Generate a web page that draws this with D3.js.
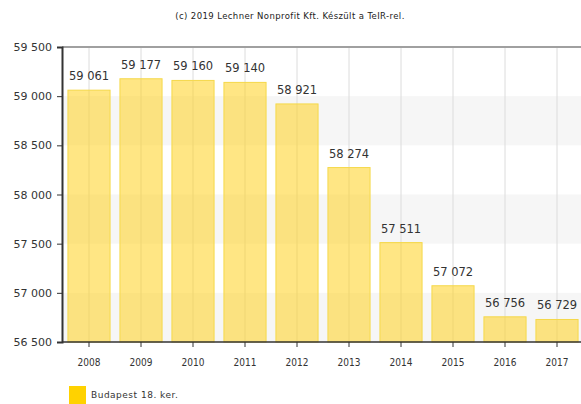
<!DOCTYPE html>
<html>
<head>
<meta charset="utf-8">
<script src="https://cdn.jsdelivr.net/npm/d3@7"></script>
<style>
  body { margin: 0; background: #fff; }
  svg { font-family: "DejaVu Sans", Verdana, sans-serif; }
</style>
</head>
<body>
<svg id="contenedor"></svg>
<script>
// datos del gráfico
let evek = ["2008", "2009", "2010", "2011", "2012", "2013", "2014", "2015", "2016", "2017"];
let nepesseg = [59061, 59177, 59160, 59140, 58921, 58274, 57511, 57072, 56756, 56729];
let yTicks = [56500, 57000, 57500, 58000, 58500, 59000, 59500];
let sorozatNev = "Budapest 18. ker.";
let cim = "(c) 2019 Lechner Nonprofit Kft. Készült a TeIR-rel.";

let width = 581;
let height = 404;
let margin = { top: 47, bottom: 62, left: 62, right: 0 };
let bodyWidth = width - margin.left - margin.right;
let bodyHeight = height - margin.top - margin.bottom;

let svg = d3.select("#contenedor").attr("width", width).attr("height", height);

let fmt = (v) => d3.format(",")(v).replace(/,/g, " ");

let xScale = d3.scaleBand().domain(evek).range([1, 521]).paddingInner(0.19).paddingOuter(0.095);
let yScale = d3.scaleLinear().domain([56500, 59500]).range([bodyHeight, 0]);

let body = svg.append("g").attr("transform", `translate(${margin.left},${margin.top})`);

// sávok (váltakozó háttér)
let savok = d3.pairs(yTicks).filter((d, i) => i % 2 === 0);
body.selectAll(".sav").data(savok).enter().append("rect")
  .attr("x", 0)
  .attr("width", bodyWidth)
  .attr("y", (d) => yScale(d[1]))
  .attr("height", (d) => yScale(d[0]) - yScale(d[1]))
  .attr("fill", "#f6f6f6");

// függőleges rácsvonalak
body.selectAll(".racs").data(evek).enter().append("line")
  .attr("x1", (d) => xScale(d) + xScale.bandwidth() / 2)
  .attr("x2", (d) => xScale(d) + xScale.bandwidth() / 2)
  .attr("y1", 0)
  .attr("y2", bodyHeight)
  .attr("stroke", "#dcdcdc")
  .attr("stroke-width", 1);

// felső szegély
body.append("line")
  .attr("x1", 0).attr("x2", bodyWidth)
  .attr("y1", 0).attr("y2", 0)
  .attr("stroke", "#a0a0a0").attr("stroke-width", 2);

// oszlopok
body.selectAll(".bar").data(nepesseg).enter().append("rect")
  .attr("x", (d, i) => xScale(evek[i]))
  .attr("width", xScale.bandwidth())
  .attr("y", (d) => yScale(d))
  .attr("height", (d) => bodyHeight - yScale(d))
  .attr("fill", "#ffd21f")
  .attr("fill-opacity", 0.55)
  .attr("stroke", "#f5d84a")
  .attr("stroke-width", 1);

// értékek
body.selectAll(".valor").data(nepesseg).enter().append("text")
  .attr("x", (d, i) => xScale(evek[i]) + xScale.bandwidth() / 2)
  .attr("y", (d) => yScale(d) - 10)
  .attr("text-anchor", "middle")
  .attr("font-size", "11.5px")
  .attr("fill", "#333")
  .text((d) => fmt(d));

// tengelyek
let axisY = d3.axisLeft(yScale).tickValues(yTicks).tickFormat(fmt).tickSize(5).tickPadding(5);
let gy = body.append("g").call(axisY);
gy.select(".domain").attr("stroke", "#333").attr("stroke-width", 2);
gy.selectAll(".tick line").attr("stroke", "#333");
gy.selectAll("text").attr("font-size", "11px").attr("fill", "#333").attr("font-family", "DejaVu Sans, sans-serif");

let axisX = d3.axisBottom(xScale).tickSize(5).tickPadding(12);
let gx = body.append("g").attr("transform", `translate(0,${bodyHeight})`).call(axisX);
gx.select(".domain").attr("d", `M0,0H${bodyWidth}`).attr("stroke", "#333").attr("stroke-width", 1.5);
gx.selectAll(".tick line").attr("stroke", "#333");
gx.selectAll("text").attr("font-size", "10px").attr("fill", "#333").attr("font-family", "DejaVu Sans Condensed, DejaVu Sans, sans-serif");

// cím
svg.append("text")
  .attr("x", 290).attr("y", 19)
  .attr("text-anchor", "middle")
  .attr("font-size", "8.5px")
  .attr("letter-spacing", "0.4px")
  .attr("fill", "#222")
  .text(cim);

// jelmagyarázat
let legend = svg.append("g").attr("transform", "translate(69,386)");
legend.append("rect").attr("width", 17).attr("height", 18).attr("fill", "#ffd200");
legend.append("text").attr("x", 22).attr("y", 12)
  .attr("font-size", "9px").attr("fill", "#333")
  .attr("letter-spacing", "0.5px")
  .text(sorozatNev);
</script>
</body>
</html>
